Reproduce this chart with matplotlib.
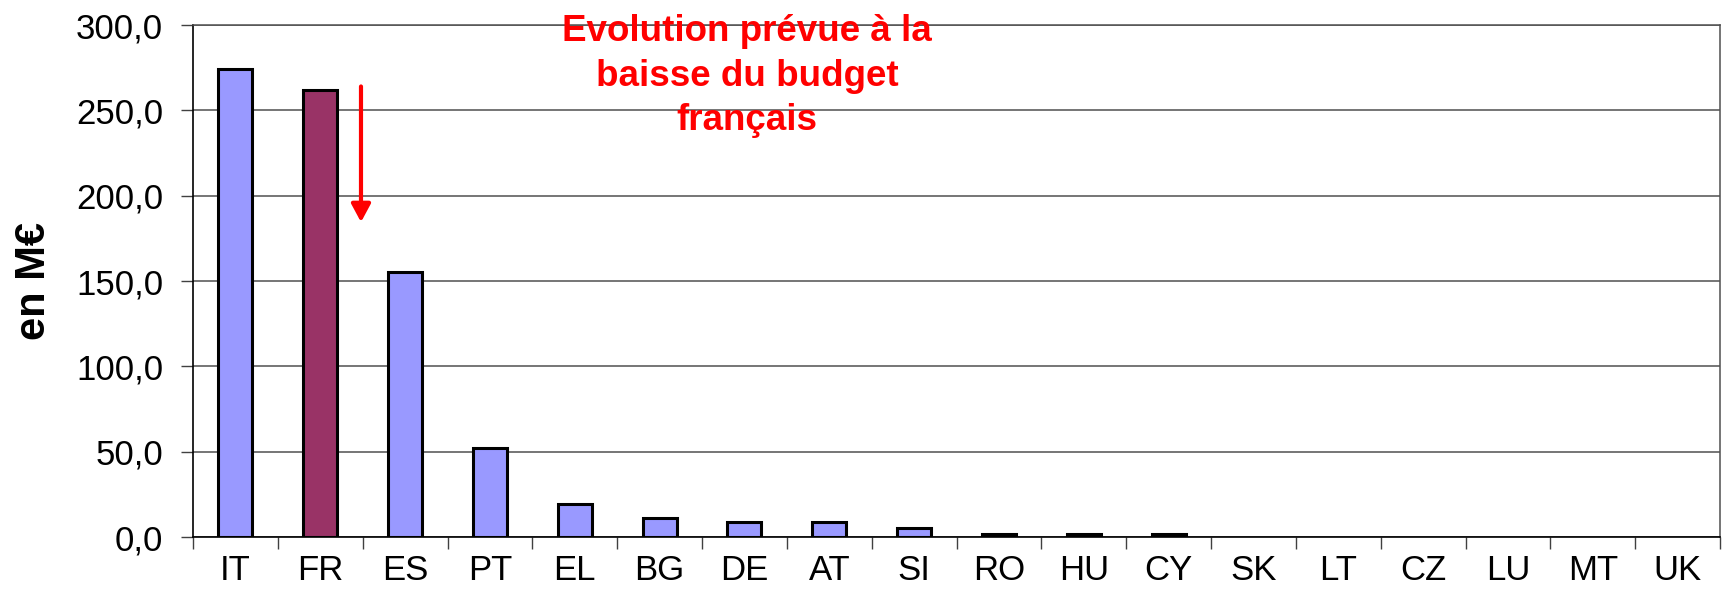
import matplotlib
matplotlib.use("Agg")
import matplotlib.pyplot as plt
from matplotlib.ticker import FixedLocator, FuncFormatter

plt.rcParams['font.family'] = ['Liberation Sans', 'DejaVu Sans']

countries = ["IT", "FR", "ES", "PT", "EL", "BG", "DE", "AT", "SI", "RO",
             "HU", "CY", "SK", "LT", "CZ", "LU", "MT", "UK"]
values = [274.0, 262.0, 155.0, 52.0, 19.5, 11.0, 9.0, 9.0, 5.5, 1.5,
          1.5, 1.5, 0.0, 0.0, 0.0, 0.0, 0.0, 0.0]
highlight = "FR"
y_ticks = [0, 50, 100, 150, 200, 250, 300]
note = "Evolution prévue à la\nbaisse du budget\nfrançais"

fig = plt.figure(figsize=(17.28, 6.07), dpi=100)
ax = fig.add_axes([0.1117, 0.1153, 0.9954 - 0.1117, 0.9588 - 0.1153])

x = list(range(len(countries)))
colors = ["#993366" if c == highlight else "#9999FF" for c in countries]
widths = [2.2 if v > 0 else 0 for v in values]
ax.bar(x, values, width=0.4, color=colors, edgecolor="black", linewidth=widths, zorder=3)

ax.set_xlim(-0.5, len(countries) - 0.5)
ax.set_ylim(0, 300)

# y axis
ax.yaxis.set_major_locator(FixedLocator(y_ticks))
ax.yaxis.set_major_formatter(FuncFormatter(lambda v, p: f"{v:.1f}".replace(".", ",")))
ax.tick_params(axis="y", length=8.6, width=1, color="#404040", pad=13, labelsize=25)
ax.grid(axis="y", color="#505050", linewidth=1.1, zorder=0)
ax.set_axisbelow(True)

# x axis: labels at centers, ticks at boundaries
ax.set_xticks(x)
ax.set_xticklabels(countries)
ax.tick_params(axis="x", which="major", length=0, pad=12, labelsize=25)
ax.set_xticks([i - 0.5 for i in range(len(countries) + 1)], minor=True)
ax.tick_params(axis="x", which="minor", length=8.6, width=1, color="#404040")

for side in ["left", "bottom"]:
    ax.spines[side].set_color("black")
    ax.spines[side].set_linewidth(1.2)
for side in ["top", "right"]:
    ax.spines[side].set_color("#505050")
    ax.spines[side].set_linewidth(1.1)

ax.set_ylabel("en M€", fontsize=30, fontweight="bold", labelpad=16)

# annotation
ax.annotate("", xy=(1.48, 184.5), xytext=(1.48, 264),
            arrowprops=dict(arrowstyle="-|>,head_length=0.54,head_width=0.29",
                            color="red", lw=3, shrinkA=0, shrinkB=0,
                            mutation_scale=20), zorder=5)
ax.text(6.03, 270, note, color="red", fontsize=26.5, fontweight="bold",
        ha="center", va="center", linespacing=1.36, zorder=5)

fig.savefig("out.png", dpi=100)
